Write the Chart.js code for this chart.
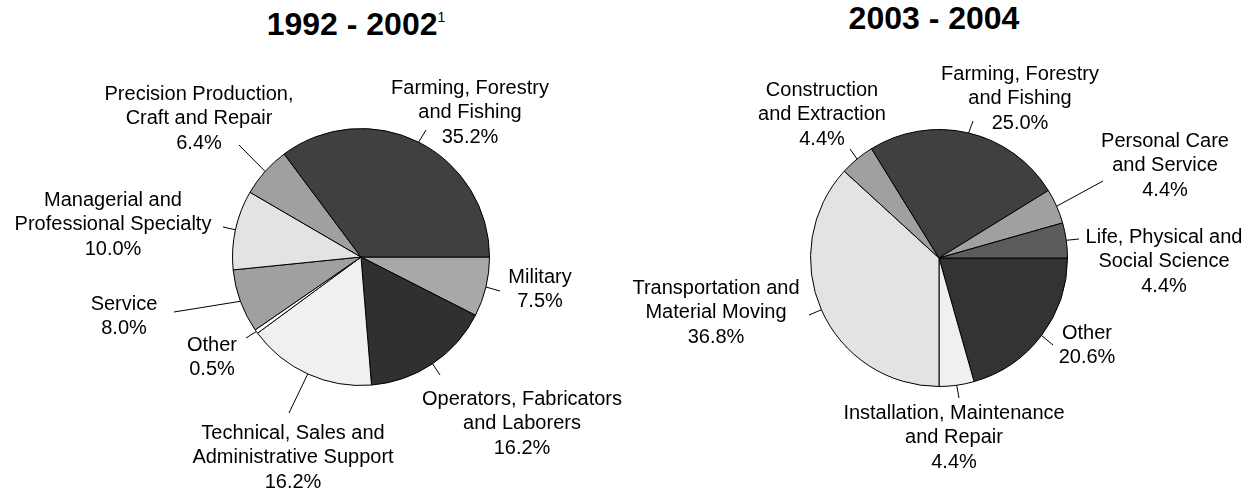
<!DOCTYPE html>
<html>
<head>
<meta charset="utf-8">
<script src="https://cdn.jsdelivr.net/npm/chart.js@4.4.1/dist/chart.umd.min.js"></script>
<style>
    body {
        margin: 0;
        background: #fff;
        width: 1249px;
        height: 493px;
        position: relative;
        overflow: hidden;
        font-family: Arial, "Liberation Sans", sans-serif;
    }
    .title {
        position: absolute;
        font-size: 32px;
        line-height: 32px;
        font-weight: bold;
        color: #000;
        white-space: nowrap;
        transform: translateX(-50%);
    }
    .title span {
        font-size: 14px;
        line-height: 14px;
        font-weight: normal;
        vertical-align: top;
        position: relative;
        top: 2px;
    }
    .box {
        position: absolute;
        top: 0;
        height: 493px;
    }
</style>
</head>
<body>
<div class="title" style="left:356px; top:8px;">1992 - 2002<span>1</span></div>
<div class="title" style="left:934px; top:2px;">2003 - 2004</div>
<div class="box" style="left:0; width:700px;"><canvas id="early"></canvas></div>
<div class="box" style="left:560px; width:689px;"><canvas id="late"></canvas></div>

<script>
// slices listed clockwise, starting at 3 o'clock
const earlyLabels = [
    ['Military'],
    ['Operators, Fabricators', 'and Laborers'],
    ['Technical, Sales and', 'Administrative Support'],
    ['Other'],
    ['Service'],
    ['Managerial and', 'Professional Specialty'],
    ['Precision Production,', 'Craft and Repair'],
    ['Farming, Forestry', 'and Fishing']
];
const earlyValues = [7.5, 16.2, 16.2, 0.5, 8.0, 10.0, 6.4, 35.2];
const earlyColors = ['#a8a8a8', '#303030', '#f0f0f0', '#ffffff', '#a0a0a0', '#e3e3e3', '#a0a0a0', '#404040'];

const lateLabels = [
    ['Other'],
    ['Installation, Maintenance', 'and Repair'],
    ['Transportation and', 'Material Moving'],
    ['Construction', 'and Extraction'],
    ['Farming, Forestry', 'and Fishing'],
    ['Personal Care', 'and Service'],
    ['Life, Physical and', 'Social Science']
];
const lateValues = [20.6, 4.4, 36.8, 4.4, 25.0, 4.4, 4.4];
const lateColors = ['#333333', '#f0f0f0', '#e3e3e3', '#a0a0a0', '#404040', '#a0a0a0', '#5c5c5c'];

// where each label sits, relative to the pie centre: text = first line centre, line = leader end
const earlyPlace = [
    {text: [179, 20], line: [139, 34]},
    {text: [161, 142], line: [79, 118]},
    {text: [-68, 176], line: [-72, 156]},
    {text: [-149, 88], line: [-115, 81]},
    {text: [-237, 47], line: [-187, 55]},
    {text: [-248, -57], line: [-138, -30]},
    {text: [-162, -163], line: [-122, -112]},
    {text: [109, -169], line: [65, -127]}
];
const latePlace = [
    {text: [148, 75], line: [114, 87]},
    {text: [15, 155], line: [20, 140]},
    {text: [-223, 30], line: [-130, 57]},
    {text: [-117, -168], line: [-89, -109]},
    {text: [81, -184], line: [34, -137]},
    {text: [226, -117], line: [164, -77]},
    {text: [225, -21], line: [140, -19]}
];

const outsideLabels = {
    id: 'outsideLabels',
    afterDatasetsDraw(chart, args, opts) {
        const ctx = chart.ctx;
        const meta = chart.getDatasetMeta(0);
        const values = chart.data.datasets[0].data;
        ctx.save();
        ctx.strokeStyle = '#000';
        ctx.lineWidth = 1;
        ctx.fillStyle = '#000';
        ctx.font = '20px Arial, "Liberation Sans", sans-serif';
        ctx.textAlign = 'center';
        ctx.textBaseline = 'middle';
        meta.data.forEach((arc, i) => {
            const {x, y, startAngle, endAngle, outerRadius} =
                arc.getProps(['x', 'y', 'startAngle', 'endAngle', 'outerRadius'], true);
            const mid = (startAngle + endAngle) / 2;
            const p = opts.place[i];
            ctx.beginPath();
            ctx.moveTo(x + Math.cos(mid) * outerRadius, y + Math.sin(mid) * outerRadius);
            ctx.lineTo(x + p.line[0], y + p.line[1]);
            ctx.stroke();
            const lines = [].concat(chart.data.labels[i], values[i].toFixed(1) + '%');
            lines.forEach((t, k) => {
                ctx.fillText(t, x + p.text[0], y + p.text[1] + k * opts.lineHeight);
            });
        });
        ctx.restore();
    }
};

function makePie(id, labels, values, colors, place, padding) {
    return new Chart(document.getElementById(id), {
        type: 'pie',
        data: {
            labels: labels,
            datasets: [{
                data: values,
                backgroundColor: colors,
                borderColor: '#000',
                borderWidth: 1
            }]
        },
        options: {
            responsive: true,
            maintainAspectRatio: false,
            animation: false,
            rotation: 90,
            radius: 128.5,
            layout: {padding: padding},
            events: [],
            plugins: {
                legend: {display: false},
                tooltip: {enabled: false},
                outsideLabels: {place: place, lineHeight: 24.7}
            }
        },
        plugins: [outsideLabels]
    });
}

makePie('early', earlyLabels, earlyValues, earlyColors, earlyPlace,
    {left: 231, right: 209, top: 127, bottom: 106});
makePie('late', lateLabels, lateValues, lateColors, latePlace,
    {left: 249, right: 180, top: 128, bottom: 105});
</script>
</body>
</html>
